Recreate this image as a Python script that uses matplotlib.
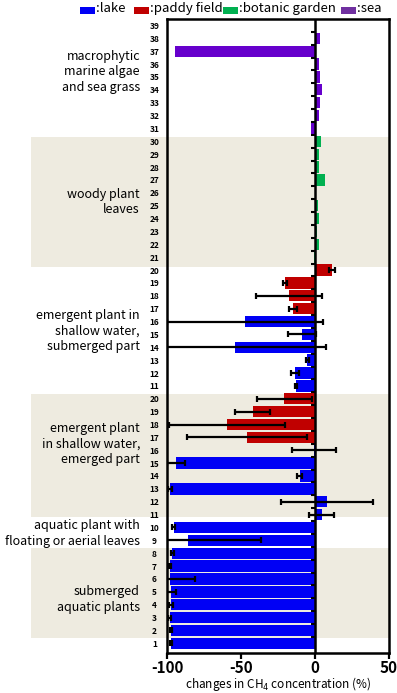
import numpy as np
import matplotlib.pyplot as plt
from matplotlib.patches import Rectangle
import matplotlib.transforms as mtransforms

plt.rcParams['font.family'] = ['Noto Sans CJK JP', 'DejaVu Sans']

# ---- data (rows listed from bottom to top) ----
row_labels = ([str(i) for i in range(1, 11)] + [str(i) for i in range(11, 21)]
              + [str(i) for i in range(11, 21)] + [str(i) for i in range(21, 40)])

# submerged aquatic plants 1-8, aquatic plant with floating leaves 9-10
vals_aquatic = [-97.4, -97.4, -98.3, -97.2, -97.2, -98.3, -98.1, -96.3, -85.7, -95.6]
errs_aquatic = [0.7, 0.7, 0.7, 1.5, 3.6, 17.0, 0.7, 1.0, 49.5, 0.7]
site_aquatic = ['lake'] * 10

# emergent plant, emerged part 11-20
vals_emerged = [4.5, 8.1, -97.9, -10.4, -94.0, -0.5, -45.9, -59.5, -42.0, -20.8]
errs_emerged = [8.4, 31.0, 1.2, 1.5, 5.9, 15.0, 40.8, 39.3, 11.8, 18.5]
site_emerged = ['lake'] * 6 + ['paddy'] * 4

# emergent plant, submerged part 11-20
vals_submerged = [-12.9, -13.6, -5.2, -54.2, -8.8, -47.3, -14.9, -17.6, -20.1, 11.5]
errs_submerged = [0.7, 2.6, 1.0, 61.7, 9.5, 53.0, 3.0, 22.5, 1.5, 2.3]
site_submerged = ['lake'] * 6 + ['paddy'] * 4

# woody plant leaves 21-30
vals_woody = [-1.0, 2.7, 1.2, 2.7, 2.0, 0.0, 7.0, 2.7, 2.9, 4.3]
errs_woody = [0] * 10
site_woody = ['botanic'] * 10

# macrophytic marine algae and sea grass 31-39
vals_sea = [-2.5, 2.5, 3.4, 4.5, 3.4, 2.5, -94.5, 3.6, 0.0]
errs_sea = [0] * 9
site_sea = ['sea'] * 9

values = vals_aquatic + vals_emerged + vals_submerged + vals_woody + vals_sea
errors = errs_aquatic + errs_emerged + errs_submerged + errs_woody + errs_sea
sites = site_aquatic + site_emerged + site_submerged + site_woody + site_sea

site_colors = {'lake': '#0000F5', 'paddy': '#C00000', 'botanic': '#00B050', 'sea': '#6600CC'}
legend_items = [('lake', ':lake'), ('paddy', ':paddy field'),
                ('botanic', ':botanic garden'), ('sea', ':sea')]
legend_patch_colors = {'lake': '#0000F5', 'paddy': '#C00000', 'botanic': '#00B050', 'sea': '#7030A0'}

group_labels = ['submerged\naquatic plants',
                'aquatic plant with\nfloating or aerial leaves',
                'emergent plant\nin shallow water,\nemerged part',
                'emergent plant in\nshallow water,\nsubmerged part',
                'woody plant\nleaves',
                'macrophytic\nmarine algae\nand sea grass']
group_label_y = [3.4, 8.55, 15.5, 24.25, 34.3, 44.4]
shaded_bands = [(0.4, 7.4), (9.8, 19.4), (29.25, 39.3)]

xticks = [-100, -50, 0, 50]

# ---- figure ----
W, H = 397, 693
fig = plt.figure(figsize=(W / 100, H / 100), dpi=100)
ax = fig.add_axes([167 / W, 1 - 653 / H, (389 - 167) / W, (653 - 19) / H])

n = len(values)
y = np.arange(n)
ax.set_xlim(-100, 50)
ax.set_ylim(-0.75, 48.5)

# shaded bands extend left beyond the axes
trans = mtransforms.blended_transform_factory(fig.transFigure, ax.transData)
for lo, hi in shaded_bands:
    r = Rectangle((31 / W, lo), 389 / W - 31 / W, hi - lo, transform=trans,
                  facecolor='#EEEBE0', edgecolor='none', zorder=0, clip_on=False)
    ax.add_patch(r)

colors = [site_colors[s] for s in sites]
ax.barh(y, values, height=0.88, color=colors, edgecolor='none', zorder=2)

for yi, v, e in zip(y, values, errors):
    if e > 0:
        ax.errorbar(v, yi, xerr=e, fmt='none', ecolor='black', elinewidth=1.6,
                    capsize=2.5, capthick=1.6, zorder=4)

ax.axvline(0, color='black', lw=1.8, zorder=5)
bounds = np.arange(n - 1) + 0.5
ax.plot(np.zeros_like(bounds), bounds, linestyle='none', marker=0,
        markersize=3, markeredgewidth=1.5, color='black', zorder=5)

for sp in ['left', 'right', 'top', 'bottom']:
    ax.spines[sp].set_linewidth(1.8)
    ax.spines[sp].set_zorder(6)

ax.set_yticks(y)
ax.set_yticklabels(row_labels, fontsize=6, fontweight='bold', ha='center')
ax.tick_params(axis='y', length=0, pad=9)

ax.set_xticks(xticks)
ax.set_xticklabels([str(t) for t in xticks], fontsize=11, fontweight='bold')
ax.tick_params(axis='x', length=4, width=1.6, direction='out', pad=1)
ax.set_xlabel('changes in CH$_4$ concentration (%)', fontsize=8.5, labelpad=-1)

for lab, gy in zip(group_labels, group_label_y):
    ax.text(140 / W, gy, lab, transform=trans, ha='right', va='center',
            fontsize=9, linespacing=1.25)

# legend
leg_x = [80, 134, 223, 341]
for (key, txt), lx in zip(legend_items, leg_x):
    fig.patches.append(Rectangle((lx / W, 1 - 13.5 / H), 15 / W, 7 / H,
                                 transform=fig.transFigure,
                                 facecolor=legend_patch_colors[key], edgecolor='none'))
    fig.text((lx + 16) / W, 1 - 8.5 / H, txt, fontsize=9.5, ha='left', va='center')

fig.savefig('out.png', dpi=100)
